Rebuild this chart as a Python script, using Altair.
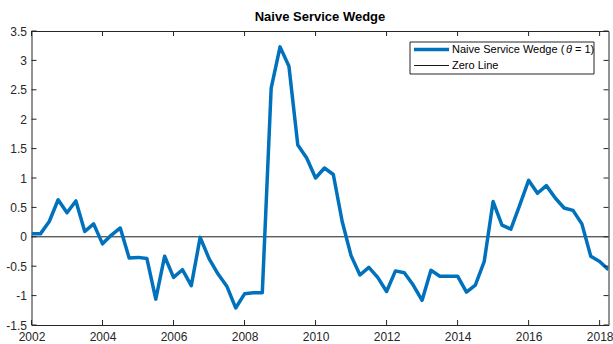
import altair as alt
import pandas as pd

# Quarterly naive service wedge, 2002Q1 - 2018Q2
start_year = 2002
wedge = [
    0.05, 0.05, 0.26, 0.63,      # 2002
    0.41, 0.61, 0.09, 0.22,      # 2003
    -0.12, 0.03, 0.15, -0.36,    # 2004
    -0.35, -0.37, -1.06, -0.33,  # 2005
    -0.69, -0.56, -0.83, -0.01,  # 2006
    -0.37, -0.63, -0.84, -1.21,  # 2007
    -0.97, -0.95, -0.95, 2.53,   # 2008
    3.23, 2.90, 1.56, 1.34,      # 2009
    1.00, 1.17, 1.06, 0.26,      # 2010
    -0.32, -0.65, -0.52, -0.69,  # 2011
    -0.93, -0.58, -0.61, -0.82,  # 2012
    -1.08, -0.57, -0.67, -0.67,  # 2013
    -0.67, -0.94, -0.82, -0.42,  # 2014
    0.60, 0.20, 0.13, 0.54,      # 2015
    0.96, 0.74, 0.87, 0.66,      # 2016
    0.49, 0.45, 0.22, -0.33,     # 2017
    -0.42, -0.56,                # 2018
]
quarters = [start_year + 0.25 * i for i in range(len(wedge))]

x_ticks = [2002, 2004, 2006, 2008, 2010, 2012, 2014, 2016, 2018]
y_ticks = [-1.5, -1.0, -0.5, 0.0, 0.5, 1.0, 1.5, 2.0, 2.5, 3.0, 3.5]
zero_level = [0.0]

chart_title = "Naive Service Wedge"
legend_series = ["Naive Service Wedge (", "\u03b8", "= 1)"]
legend_zero = "Zero Line"

W, H = 577, 294
FONT = "Liberation Sans"
AX = "#262626"
BLUE = "#0072BD"

x_scale = alt.Scale(domain=[2002, 2018.25], nice=False, zero=False)
y_scale = alt.Scale(domain=[-1.5, 3.5], nice=False, zero=False)

x_axis = alt.Axis(
    values=x_ticks, labelExpr="datum.value + ''", ticks=False, title=None,
    domain=False, grid=False, labelPadding=6, labelFontSize=12,
    labelFont=FONT, labelColor=AX, labelFlush=False,
)
y_axis = alt.Axis(
    values=y_ticks, labelExpr="datum.value + ''", ticks=False, title=None,
    domain=False, grid=False, labelPadding=5, labelFontSize=12,
    labelFont=FONT, labelColor=AX, labelFlush=False,
)


def X(field):
    return alt.X(field, scale=x_scale, axis=x_axis, title=None)


def Y(field):
    return alt.Y(field, scale=y_scale, axis=y_axis, title=None)


series = pd.DataFrame({"t": quarters, "v": wedge})

zero_line = alt.Chart(pd.DataFrame({"v": zero_level})).mark_rule(
    color="#1a1a1a", strokeWidth=1
).encode(y=Y("v:Q"))

line = alt.Chart(series).mark_line(
    color=BLUE, strokeWidth=3.5, clip=True, strokeJoin="round"
).encode(x=X("t:Q"), y=Y("v:Q"))

# inward-pointing tick marks on all four sides of the box
xt = pd.DataFrame({"t": x_ticks})
yt = pd.DataFrame({"v": y_ticks})
tick_style = dict(color=AX, strokeWidth=1)
x_bottom = alt.Chart(xt).mark_rule(**tick_style).encode(
    x=X("t:Q"), y=alt.value(H), y2=alt.value(H - 5))
x_top = alt.Chart(xt).mark_rule(**tick_style).encode(
    x=X("t:Q"), y=alt.value(0), y2=alt.value(5))
y_left = alt.Chart(yt).mark_rule(**tick_style).encode(
    y=Y("v:Q"), x=alt.value(0), x2=alt.value(5))
y_right = alt.Chart(yt).mark_rule(**tick_style).encode(
    y=Y("v:Q"), x=alt.value(W), x2=alt.value(W - 5))

# legend box in the upper right corner
leg = pd.DataFrame({"a": legend_series[:1], "b": legend_series[1:2],
                    "c": legend_series[2:], "z": [legend_zero]})
leg_box = alt.Chart(leg).mark_rect(fill="white", stroke=AX, strokeWidth=1).encode(
    x=alt.value(378.5), x2=alt.value(562.5), y=alt.value(11), y2=alt.value(43))
leg_line1 = alt.Chart(leg).mark_rule(color=BLUE, strokeWidth=3.5).encode(
    x=alt.value(382.5), x2=alt.value(417.5), y=alt.value(18.5))
leg_line2 = alt.Chart(leg).mark_rule(color="#1a1a1a", strokeWidth=1).encode(
    x=alt.value(382.5), x2=alt.value(417.5), y=alt.value(34.5))
txt = dict(align="left", baseline="middle", fontSize=11, font=FONT, color="#000000")
leg_t1 = alt.Chart(leg).mark_text(**txt).encode(
    x=alt.value(420.5), y=alt.value(18.5), text="a:N")
leg_t2 = alt.Chart(leg).mark_text(fontStyle="italic", **txt).encode(
    x=alt.value(534.5), y=alt.value(18.5), text="b:N")
leg_t3 = alt.Chart(leg).mark_text(**txt).encode(
    x=alt.value(543.5), y=alt.value(18.5), text="c:N")
leg_t4 = alt.Chart(leg).mark_text(**txt).encode(
    x=alt.value(420.5), y=alt.value(34.5), text="z:N")

chart = alt.layer(
    zero_line, line, x_bottom, x_top, y_left, y_right,
    leg_box, leg_line1, leg_line2, leg_t1, leg_t2, leg_t3, leg_t4,
).properties(
    width=W, height=H,
    title=alt.TitleParams(
        chart_title, fontSize=13, fontWeight="bold", font=FONT,
        color="#000000", anchor="middle", offset=1,
    ),
    autosize=alt.AutoSizeParams(type="none"),
    padding={"left": 31.5, "top": 31, "right": 4.5, "bottom": 19},
    background="white",
).configure_view(stroke=AX, strokeWidth=1)

chart.save("out.html", embed_options={"renderer": "svg", "actions": False})
